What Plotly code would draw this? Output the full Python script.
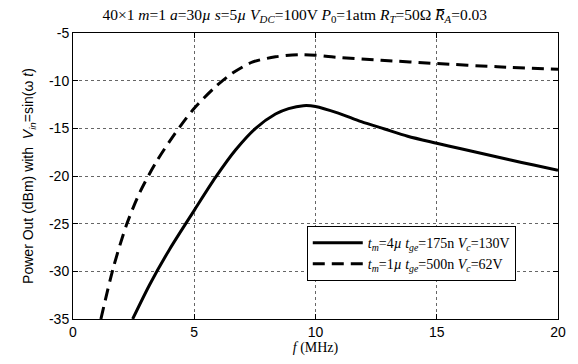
import plotly.graph_objects as go

# Solid curve: t_m=4µ, t_ge=175n, V_c=130V
f_solid = [2.46, 3.16, 3.98, 5.0, 5.89, 6.71, 7.53, 8.35, 8.89, 9.5, 10.0, 10.94, 11.89, 12.85, 13.8, 15.0, 16.0, 17.0, 18.0, 19.0, 20.0]
p_solid = [-35.0, -31.4, -27.7, -23.6, -20.1, -17.25, -15.0, -13.5, -12.93, -12.62, -12.7, -13.4, -14.3, -15.07, -15.83, -16.56, -17.15, -17.72, -18.3, -18.85, -19.4]

# Dashed curve: t_m=1µ, t_ge=500n, V_c=62V
f_dash = [1.15, 1.66, 2.21, 2.76, 3.44, 4.19, 5.0, 5.89, 6.58, 7.39, 8.35, 9.3, 10.0, 10.66, 12.7, 15.0, 17.5, 20.0]
p_dash = [-35.0, -29.65, -25.1, -21.7, -18.5, -15.6, -12.9, -10.6, -9.2, -8.06, -7.5, -7.27, -7.33, -7.5, -7.85, -8.2, -8.54, -8.8]

x_ticks = [0, 5, 10, 15, 20]
y_ticks = [-35, -30, -25, -20, -15, -10, -5]

serif = "Times New Roman, Liberation Serif, DejaVu Serif, serif"
sans = "Arial, Liberation Sans, sans-serif"

fig = go.Figure()
fig.add_trace(go.Scatter(
    x=f_solid, y=p_solid, mode="lines",
    line=dict(color="black", width=3, shape="spline", smoothing=0.8),
    name="<i>t<sub>m</sub></i>=4<i>µ</i> <i>t<sub>ge</sub></i>=175n <i>V<sub>c</sub></i>=130V"))
fig.add_trace(go.Scatter(
    x=f_dash, y=p_dash, mode="lines",
    line=dict(color="black", width=3, dash="12px,7px", shape="spline", smoothing=0.8),
    name="<i>t<sub>m</sub></i>=1<i>µ</i> <i>t<sub>ge</sub></i>=500n <i>V<sub>c</sub></i>=62V"))

axis_common = dict(
    showline=True, linecolor="black", linewidth=1, mirror="ticks",
    ticks="inside", ticklen=5, tickcolor="black",
    showgrid=True, gridcolor="#666666", griddash="dot", gridwidth=1,
    zeroline=False, tickfont=dict(family=sans, size=14, color="black"),
)

fig.update_layout(
    width=578, height=364,
    margin=dict(l=73, r=17, t=33, b=42),
    paper_bgcolor="white", plot_bgcolor="white",
    title=dict(
        text="40×1 <i>m</i>=1 <i>a</i>=30<i>µ</i> <i>s</i>=5<i>µ</i> <i>V<sub>DC</sub></i>=100V <i>P</i><sub>0</sub>=1atm <i>R<sub>T</sub></i>=50Ω <i>R̅<sub>A</sub></i>=0.03",
        x=0.51, xref="container", xanchor="center", y=0.96, yanchor="middle",
        font=dict(family=serif, size=15.5, color="black")),
    xaxis=dict(range=[0, 20], tickvals=x_ticks, ticktext=[str(v) for v in x_ticks],
               title=dict(text="<i>f</i> (MHz)", font=dict(family=serif, size=14, color="black"), standoff=2),
               **axis_common),
    yaxis=dict(range=[-35, -5], tickvals=y_ticks, ticktext=[str(v) for v in y_ticks],
               title=dict(text="Power Out (dBm) with  <i>V<sub>in</sub></i>=sin(ω <i>t</i>)",
                          font=dict(family=sans, size=14, color="black"), standoff=12),
               **axis_common),
    legend=dict(x=0.482, y=0.325, xanchor="left", yanchor="top",
                bgcolor="white", bordercolor="black", borderwidth=1,
                font=dict(family=serif, size=14, color="black"),
                tracegroupgap=0, itemwidth=50),
    showlegend=True,
)

fig.write_html("out.html")
